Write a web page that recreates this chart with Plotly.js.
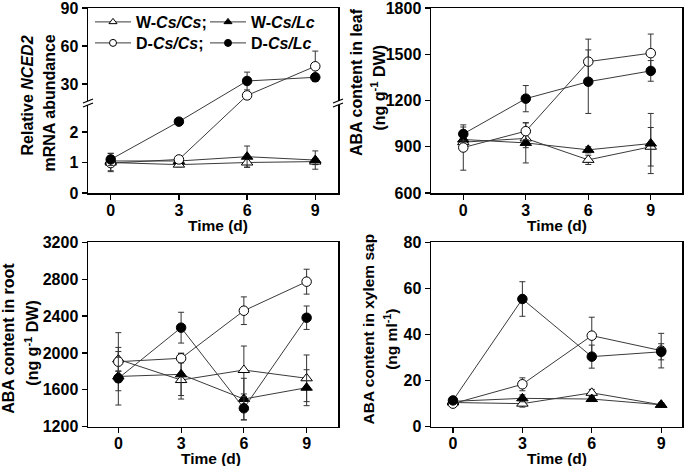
<!DOCTYPE html>
<html><head><meta charset="utf-8">
<script src="https://cdn.plot.ly/plotly-3.0.1.min.js"></script>
<style>html,body{margin:0;padding:0;background:#fff}#chart{width:685px;height:466px}</style>
</head><body><div id="chart"></div>
<script>
// ---------- data ----------
const days = [0, 3, 6, 9];
const seriesNames = ['W-<i>Cs/Cs</i>;', 'W-<i>Cs/Lc</i>', 'D-<i>Cs/Cs</i>;', 'D-<i>Cs/Lc</i>'];

// Relative NCED2 mRNA abundance
const nced_W_CsCs = [1.0, 0.93, 1.0, 1.03];
const nced_W_CsCs_err = [0.3, 0.07, 0.15, 0.1];
const nced_W_CsLc = [1.05, 1.05, 1.19, 1.08];
const nced_W_CsLc_err = [0.1, 0.08, 0.35, 0.3];
const nced_D_CsCs = [0.98, 1.1, 21, 44];
const nced_D_CsCs_err = [0.25, 0.1, 3, 12];
const nced_D_CsLc = [1.1, 2.34, 32.4, 35.3];
const nced_D_CsLc_err = [0.2, 0.05, 7, 3];

// ABA content in leaf (ng g-1 DW)
const leaf_W_CsCs = [930, 954, 815, 900];
const leaf_W_CsCs_err = [40, 60, 30, 125];
const leaf_W_CsLc = [947, 925, 880, 921];
const leaf_W_CsLc_err = [40, 130, 20, 195];
const leaf_D_CsCs = [895, 1001, 1452, 1507];
const leaf_D_CsCs_err = [147, 55, 146, 124];
const leaf_D_CsLc = [983, 1212, 1322, 1392];
const leaf_D_CsLc_err = [45, 85, 206, 67];

// ABA content in root (ng g-1 DW)
const root_W_CsCs = [1930, 1706, 1815, 1725];
const root_W_CsCs_err = [130, 206, 260, 253];
const root_W_CsLc = [1745, 1768, 1500, 1623];
const root_W_CsLc_err = [60, 230, 225, 195];
const root_D_CsCs = [1905, 1942, 2458, 2773];
const root_D_CsCs_err = [315, 50, 150, 135];
const root_D_CsLc = [1725, 2274, 1400, 2382];
const root_D_CsLc_err = [290, 167, 127, 127];

// ABA content in xylem sap (ng ml-1)
const sap_W_CsCs = [10.5, 10, 14.7, 9.5];
const sap_W_CsCs_err = [1, 1.5, 1.5, 0.8];
const sap_W_CsLc = [11, 12.3, 12, 9.5];
const sap_W_CsLc_err = [1, 1.5, 1, 0.8];
const sap_D_CsCs = [10, 18.4, 39.5, 33];
const sap_D_CsCs_err = [1, 2.8, 8, 7.5];
const sap_D_CsLc = [11.4, 55.4, 30.4, 32.5];
const sap_D_CsLc_err = [1, 7.5, 5, 3.5];

// tick labels
const xTicks = [0, 3, 6, 9];
const ncedTicks = [0, 1, 2, 30, 60, 90];
const leafTicks = [600, 900, 1200, 1500, 1800];
const rootTicks = [1200, 1600, 2000, 2400, 2800, 3200];
const sapTicks = [0, 20, 40, 60, 80];

// titles
const xTitle = 'Time (d)';
const ncedTitle = ['Relative <i>NCED2</i>', 'mRNA abundance'];
const leafTitle = ['ABA content in leaf', '(ng g<sup>-1</sup> DW)'];
const rootTitle = ['ABA content in root', '(ng g<sup>-1</sup> DW)'];
const sapTitle = ['ABA content in xylem sap', '(ng ml<sup>-1</sup>)'];

// ---------- broken axis mapping for NCED2 panel ----------
const LOW_MAX = 2.95, HIGH_MIN = 15, HIGH_SCALE = 0.04154;
function brk(v) { return v <= LOW_MAX ? v : LOW_MAX + (v - HIGH_MIN) * HIGH_SCALE; }
const NCED_TOP = brk(90);

// ---------- styles ----------
const FONT = 'Liberation Sans, Arial, sans-serif';
const symbols = ['triangle-up', 'triangle-up', 'circle', 'circle'];
const fills = ['white', 'black', 'white', 'black'];
const sizes = [10, 10, 9.5, 9.5];
const lineColor = '#3a3a3a';

const traces = [];
function addPanel(seriesList, errList, xa, ya, mapFn) {
  seriesList.forEach((vals, i) => {
    const errs = errList[i];
    const f = mapFn || (v => v);
    const y = vals.map(f);
    const up = vals.map((v, k) => f(v + errs[k]) - f(v));
    const dn = vals.map((v, k) => f(v) - f(v - errs[k]));
    traces.push({
      x: days, y: y, xaxis: xa, yaxis: ya, type: 'scatter', mode: 'lines+markers',
      showlegend: false, cliponaxis: false,
      line: {color: lineColor, width: 1},
      marker: {symbol: symbols[i], size: sizes[i], color: fills[i], line: {color: 'black', width: 1}},
      error_y: {type: 'data', symmetric: false, array: up, arrayminus: dn, color: '#333', thickness: 1, width: 3}
    });
  });
}
addPanel([nced_W_CsCs, nced_W_CsLc, nced_D_CsCs, nced_D_CsLc],
         [nced_W_CsCs_err, nced_W_CsLc_err, nced_D_CsCs_err, nced_D_CsLc_err], 'x', 'y', brk);
addPanel([leaf_W_CsCs, leaf_W_CsLc, leaf_D_CsCs, leaf_D_CsLc],
         [leaf_W_CsCs_err, leaf_W_CsLc_err, leaf_D_CsCs_err, leaf_D_CsLc_err], 'x2', 'y2');
addPanel([root_W_CsCs, root_W_CsLc, root_D_CsCs, root_D_CsLc],
         [root_W_CsCs_err, root_W_CsLc_err, root_D_CsCs_err, root_D_CsLc_err], 'x3', 'y3');
addPanel([sap_W_CsCs, sap_W_CsLc, sap_D_CsCs, sap_D_CsLc],
         [sap_W_CsCs_err, sap_W_CsLc_err, sap_D_CsCs_err, sap_D_CsLc_err], 'x4', 'y4');

// legend entries (one legend per entry for exact placement)
const legendIds = ['legend', 'legend2', 'legend3', 'legend4'];
seriesNames.forEach((name, i) => {
  traces.push({
    x: [null], y: [null], xaxis: 'x', yaxis: 'y', type: 'scatter', mode: 'lines+markers',
    name: name, legend: legendIds[i], showlegend: true,
    line: {color: lineColor, width: 1},
    marker: {symbol: symbols[i], size: 7, color: fills[i], line: {color: 'black', width: 1}}
  });
});

const W = 685, H = 466;
const px2fx = p => p / W, py2fy = p => 1 - p / H;
const tickFont = {family: FONT, size: 16, color: 'black', weight: 'bold'};

function axisBase() {
  return {
    showline: true, linecolor: 'black', linewidth: 1.5, mirror: true,
    ticks: 'outside', ticklen: 5, tickwidth: 1.2, tickcolor: 'black',
    showgrid: false, zeroline: false, automargin: false, ticklabeloverflow: 'allow',
    tickfont: tickFont
  };
}
function xAxis(domain, range, anchor) {
  return Object.assign(axisBase(), {domain: domain, range: range, anchor: anchor, tickvals: xTicks,
    ticklabelstandoff: -3});
}
function yAxis(domain, range, anchor, ticks, tickvalsOverride) {
  return Object.assign(axisBase(), {
    domain: domain, range: range, anchor: anchor,
    tickvals: tickvalsOverride || ticks, ticktext: ticks.map(String)
  });
}

const leftPanelX = [px2fx(88), px2fx(338)];
const rightPanelX = [px2fx(431), px2fx(682)];
const topY = [py2fy(193), py2fy(8)];
const botY = [py2fy(426.7), py2fy(242.3)];

// axis titles as text annotations (pixel placement)
const annotations = [];
function yTitle(lines, xs, ys, size) {
  lines.forEach((t, i) => {
    annotations.push({text: t, xref: 'paper', yref: 'paper', x: px2fx(xs[i]), y: py2fy(ys[i]),
      xanchor: 'center', yanchor: 'middle', textangle: -90, showarrow: false,
      font: {family: FONT, size: size, color: 'black', weight: 'bold'}});
  });
}
function xTitleAt(px, py) {
  annotations.push({text: xTitle, xref: 'paper', yref: 'paper', x: px2fx(px), y: py2fy(py),
    xanchor: 'center', yanchor: 'middle', showarrow: false, borderpad: 0,
    font: {family: FONT, size: 15.5, color: 'black', weight: 'bold'}});
}
yTitle(ncedTitle, [27.5, 48.5], [96, 103], 16);
yTitle(leafTitle, [356, 378.5], [82, 88], 16);
yTitle(rootTitle, [8.5, 31.7], [338.3, 343], 16);
yTitle(sapTitle, [367.5, 390.8], [329, 339], 15.5);
xTitleAt(217.5, 225);
xTitleAt(556.7, 225);
xTitleAt(211, 458.5);
xTitleAt(557, 458);

// break marks on the NCED2 panel (positions in pixels)
const breakPy = 193 - (LOW_MAX / NCED_TOP) * 185;
const shapes = [];
[88, 338].forEach(px => {
  shapes.push({type: 'rect', xref: 'paper', yref: 'paper', layer: 'above',
    x0: px2fx(px - 6), x1: px2fx(px + 6), y0: py2fy(breakPy + 2), y1: py2fy(breakPy - 2),
    fillcolor: 'white', line: {width: 0}});
  [-2, 2].forEach(off => {
    shapes.push({type: 'line', xref: 'paper', yref: 'paper', layer: 'above',
      x0: px2fx(px - 5), y0: py2fy(breakPy + off + 2), x1: px2fx(px + 5), y1: py2fy(breakPy + off - 2),
      line: {color: 'black', width: 1.2}});
  });
});

function legendAt(px, py) {
  return {x: px2fx(px), y: py2fy(py), xanchor: 'left', yanchor: 'middle', orientation: 'h',
    bgcolor: 'rgba(0,0,0,0)', borderwidth: 0, itemwidth: 36,
    font: {family: FONT, size: 16, color: 'black', weight: 'bold'}};
}

const layout = {
  width: W, height: H, margin: {l: 0, r: 0, t: 0, b: 0},
  paper_bgcolor: 'white', plot_bgcolor: 'white', showlegend: true,
  xaxis: xAxis(leftPanelX, [-1, 10], 'y'),
  yaxis: yAxis(topY, [0, NCED_TOP], 'x', ncedTicks, ncedTicks.map(brk)),
  xaxis2: xAxis(rightPanelX, [-1.55, 10.5], 'y2'),
  yaxis2: yAxis(topY, [600, 1800], 'x2', leafTicks),
  xaxis3: xAxis(leftPanelX, [-1.45, 10.5], 'y3'),
  yaxis3: yAxis(botY, [1200, 3200], 'x3', rootTicks),
  xaxis4: xAxis(rightPanelX, [-0.95, 9.9], 'y4'),
  yaxis4: yAxis(botY, [0, 80], 'x4', sapTicks),
  legend: legendAt(90, 22),
  legend2: legendAt(205, 22),
  legend3: legendAt(90, 43),
  legend4: legendAt(205, 43),
  shapes: shapes,
  annotations: annotations
};

Plotly.newPlot('chart', traces, layout, {displayModeBar: false, staticPlot: true});
</script></body></html>
